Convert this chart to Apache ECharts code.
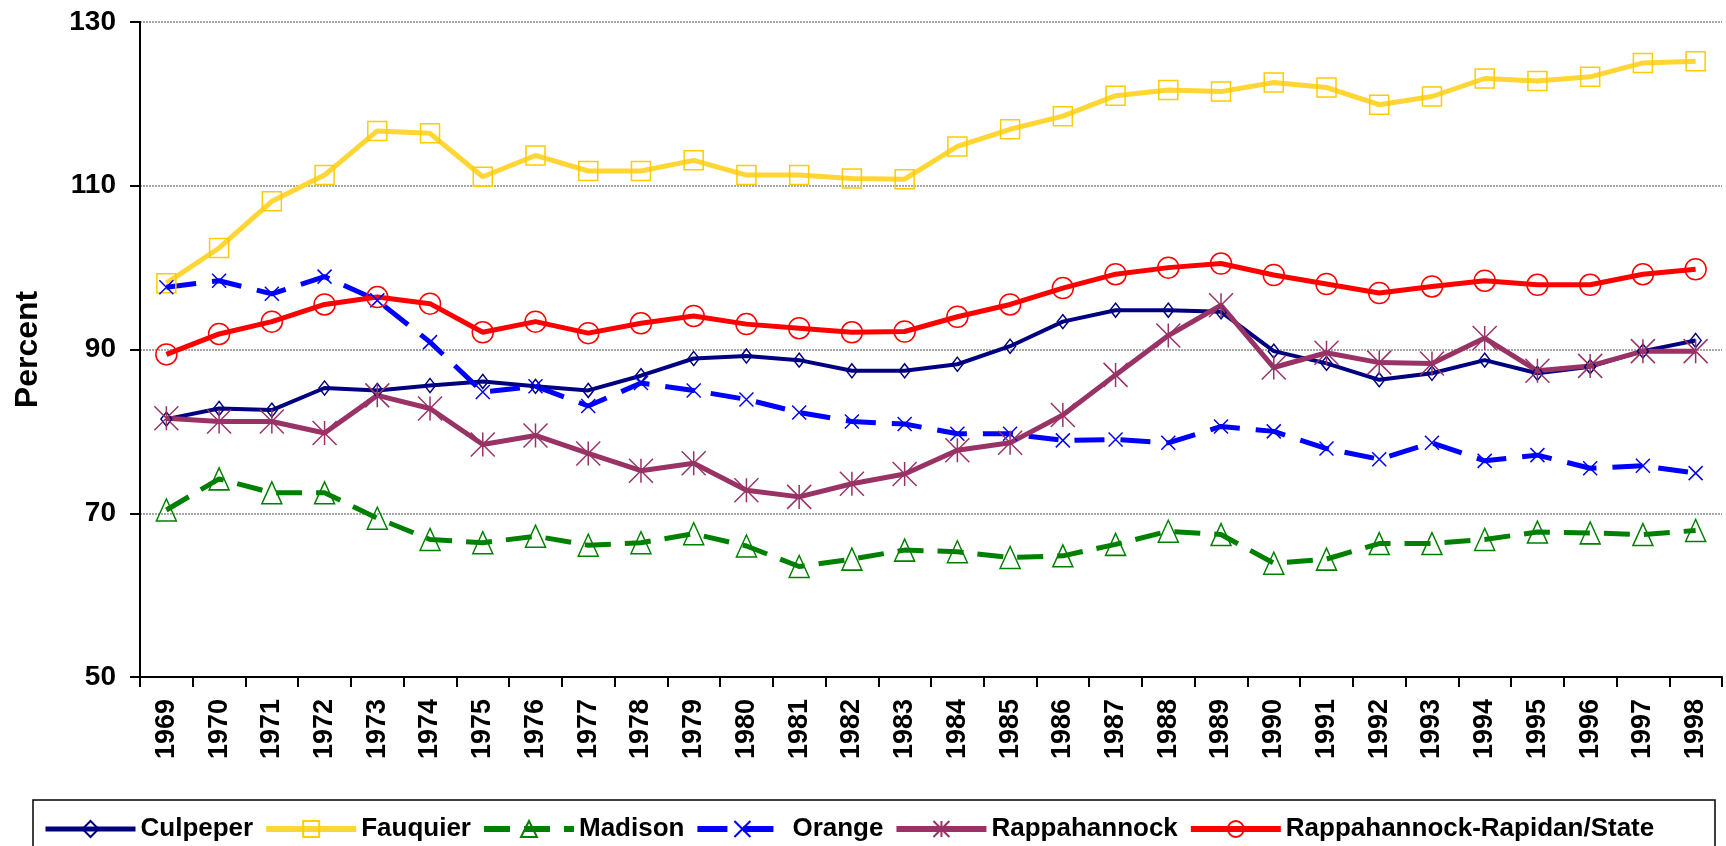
<!DOCTYPE html>
<html>
<head>
<meta charset="utf-8">
<script src="https://cdn.jsdelivr.net/npm/echarts@6/dist/echarts.min.js"></script>
<style>
  html, body { margin: 0; padding: 0; background: #fff; }
  #main { width: 1726px; height: 846px; }
</style>
</head>
<body>
<div id="main"></div>
<script>
// data
var years = ['1969', '1970', '1971', '1972', '1973', '1974', '1975', '1976', '1977', '1978',
  '1979', '1980', '1981', '1982', '1983', '1984', '1985', '1986', '1987', '1988',
  '1989', '1990', '1991', '1992', '1993', '1994', '1995', '1996', '1997', '1998'];

var culpeper = [81.5, 82.8, 82.6, 85.3, 85.0, 85.6, 86.1, 85.5, 85.0, 86.8, 88.9, 89.2, 88.7, 87.4, 87.4,
  88.2, 90.4, 93.4, 94.8, 94.8, 94.6, 89.8, 88.3, 86.3, 87.1, 88.7, 87.1, 87.9, 89.8, 91.1];
var fauquier = [98.1, 102.4, 108.1, 111.3, 116.7, 116.4, 111.1, 113.7, 111.8, 111.8, 113.1, 111.3, 111.3, 110.9, 110.8,
  114.8, 116.9, 118.5, 121.0, 121.7, 121.5, 122.6, 122.0, 119.9, 120.9, 123.1, 122.8, 123.3, 125.0, 125.2];
var madison = [70.4, 74.2, 72.5, 72.5, 69.4, 66.8, 66.4, 67.2, 66.1, 66.4, 67.5, 66.0, 63.5, 64.4, 65.5,
  65.3, 64.6, 64.8, 66.2, 67.8, 67.4, 63.9, 64.4, 66.3, 66.3, 66.8, 67.7, 67.6, 67.4, 67.9];
var orange = [97.6, 98.4, 96.8, 98.9, 96.0, 90.9, 84.8, 85.5, 83.1, 85.9, 85.0, 83.9, 82.3, 81.2, 80.9,
  79.7, 79.7, 78.9, 79.0, 78.6, 80.6, 80.0, 77.9, 76.6, 78.6, 76.4, 77.1, 75.5, 75.8, 74.9];
var rappahannock = [81.6, 81.2, 81.2, 79.8, 84.4, 82.8, 78.4, 79.5, 77.3, 75.2, 76.1, 72.8, 72.0, 73.6, 74.8,
  77.7, 78.6, 82.0, 86.9, 91.7, 95.4, 87.8, 89.6, 88.4, 88.3, 91.4, 87.4, 88.0, 89.8, 89.8];
var regionState = [89.4, 91.9, 93.4, 95.5, 96.4, 95.6, 92.1, 93.4, 92.0, 93.2, 94.1, 93.1, 92.6, 92.1, 92.2,
  94.0, 95.5, 97.5, 99.2, 100.0, 100.5, 99.1, 98.0, 96.9, 97.7, 98.4, 97.9, 97.9, 99.2, 99.8];

var yTicks = [50, 70, 90, 110, 130];

var FONT = '"Liberation Sans", Arial, sans-serif';
var NARROW = '"Liberation Sans Narrow", "Arial Narrow", "Liberation Sans", sans-serif';
var crossPath = 'path://M0,0L10,10M10,0L0,10';
var starPath = 'path://M0,0L10,10M10,0L0,10M5,0L5,10';

var chart = echarts.init(document.getElementById('main'));

function lineSeries(name, data, color, width, dash, symbol, size, markerColor) {
  return {
    name: name,
    type: 'line',
    data: data,
    symbol: symbol,
    symbolSize: size,
    showAllSymbol: true,
    lineStyle: { color: color, width: width, type: dash },
    itemStyle: { color: 'rgba(0,0,0,0)', borderColor: markerColor || color, borderWidth: 1.5 },
    emphasis: { disabled: true }
  };
}

var series = [
  lineSeries('Culpeper', culpeper, '#000080', 4, 'solid', 'diamond', [11, 14]),
  lineSeries('Fauquier', fauquier, '#FFD633', 5, 'solid', 'rect', 19, '#FFCC00'),
  lineSeries('Madison', madison, '#008000', 5, [26, 14], 'triangle', [20, 22]),
  lineSeries('Orange', orange, '#0000FF', 5, [30, 16], crossPath, 14),
  lineSeries('Rappahannock', rappahannock, '#993366', 5, 'solid', starPath, 24),
  lineSeries('Rappahannock-Rapidan/State', regionState, '#FF0000', 5, 'solid', 'circle', 21)
];

var option = {
  animation: false,
  backgroundColor: '#fff',
  grid: { left: 140, right: 4, top: 22, bottom: 169 },
  legend: {
    left: 38,
    top: 811,
    itemWidth: 90,
    itemHeight: 20,
    itemGap: 10,
    data: series.map(function (s) {
      return { name: s.name, lineStyle: { width: s.lineStyle.width + 1 } };
    }),
    textStyle: { fontFamily: FONT, fontSize: 26, fontWeight: 'bold', color: '#000' }
  },
  graphic: [{
    type: 'rect',
    shape: { x: 33, y: 800, width: 1682, height: 60 },
    style: { fill: 'none', stroke: '#000', lineWidth: 1.5 },
    z: 0
  }],
  xAxis: {
    type: 'category',
    data: years,
    boundaryGap: true,
    axisLine: { lineStyle: { color: '#000', width: 2 } },
    axisTick: { show: true, length: 10, lineStyle: { color: '#000', width: 2 } },
    axisLabel: {
      rotate: 90, margin: 22, color: '#000',
      fontFamily: NARROW, fontSize: 27, fontWeight: 'bold', interval: 0
    }
  },
  yAxis: {
    type: 'value',
    min: yTicks[0],
    max: yTicks[yTicks.length - 1],
    interval: 20,
    name: 'Percent',
    nameLocation: 'middle',
    nameGap: 96,
    nameRotate: 90,
    nameTextStyle: { fontFamily: FONT, fontSize: 32, fontWeight: 'bold', color: '#000' },
    axisLine: { show: true, lineStyle: { color: '#000', width: 2 } },
    axisTick: { show: true, length: 10, lineStyle: { color: '#000', width: 2 } },
    axisLabel: { margin: 24, color: '#000', fontFamily: FONT, fontSize: 28, fontWeight: 'bold' },
    splitLine: { show: true, lineStyle: { color: '#8c8c8c', width: 1.5, type: [2, 1] } }
  },
  series: series
};

chart.setOption(option);
</script>
</body>
</html>
